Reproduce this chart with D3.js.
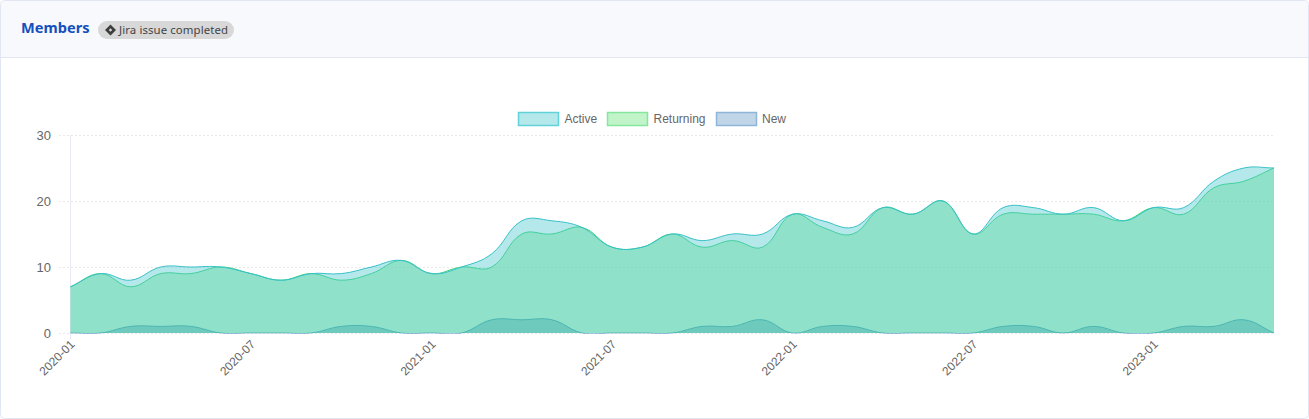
<!DOCTYPE html>
<html><head><meta charset="utf-8">
<script src="https://cdn.jsdelivr.net/npm/d3@7/dist/d3.min.js"></script>
<style>
html,body{margin:0;padding:0;background:#fff;width:1309px;height:419px;overflow:hidden}
svg{display:block}
</style></head><body><svg id="c" width="1309" height="419"></svg>
<script>
const months=["2020-01","2020-02","2020-03","2020-04","2020-05","2020-06","2020-07","2020-08","2020-09","2020-10","2020-11","2020-12","2021-01","2021-02","2021-03","2021-04","2021-05","2021-06","2021-07","2021-08","2021-09","2021-10","2021-11","2021-12","2022-01","2022-02","2022-03","2022-04","2022-05","2022-06","2022-07","2022-08","2022-09","2022-10","2022-11","2022-12","2023-01","2023-02","2023-03","2023-04","2023-05"];
const active=[7,9,8,10,10,10,9,8,9,9,10,11,9,10,12,17,17,16,13,13,15,14,15,15,18,17,16,19,18,20,15,19,19,18,19,17,19,19,23,25,25];
const returning=[7,9,7,9,9,10,9,8,9,8,9,11,9,10,10,15,15,16,13,13,15,13,14,13,18,16,15,19,18,20,15,18,18,18,18,17,19,18,22,23,25];
const fresh=[0,0,1,1,1,0,0,0,0,1,1,0,0,0,2,2,2,0,0,0,0,1,1,2,0,1,1,0,0,0,0,1,1,0,1,0,0,1,1,2,0];
const tickLabels=["2020-01","2020-07","2021-01","2021-07","2022-01","2022-07","2023-01"];
const yTicks=[0,10,20,30];
const seriesNames=["Active","Returning","New"];
const seriesValues=[active,returning,fresh];
const strokes=["#38c0c8","#42d680","#3f86bd"];
const fills=["rgba(70,198,203,0.4)","rgba(100,228,120,0.4)","rgba(70,130,185,0.5)"];
const legendStroke=["#62d2d9","#86e69e","#8fb6d8"];
const legendFill=["#b5e8ea","#c1f4c9","#c0d5e7"];

const svg=d3.select("#c");
const FONT='"Liberation Sans",Arial,sans-serif';
svg.append("rect").attr("x",0.5).attr("y",0.5).attr("width",1308).attr("height",418).attr("rx",4).attr("fill","#fff").attr("stroke","#e2e5f2");
svg.append("path").attr("d","M1,57 V5 a4,4 0 0 1 4,-4 H1304 a4,4 0 0 1 4,4 V57 Z").attr("fill","#f8f9fd");
svg.append("line").attr("x1",1).attr("x2",1308).attr("y1",57.5).attr("y2",57.5).attr("stroke","#e2e5f2");
svg.append("text").attr("x",21).attr("y",33).attr("font-family",'"Noto Sans",sans-serif').attr("font-size",14.6).attr("font-weight",700).attr("fill","#1550bd").text("Members");
svg.append("rect").attr("x",98).attr("y",21).attr("width",136).attr("height",18).attr("rx",9).attr("fill","#d8d8d8");
svg.append("path").attr("fill-rule","evenodd").attr("fill","#3d3d3d").attr("d","M110.5,24.5 L116,30 L110.5,35.5 L105,30 Z M110.5,28.3 L108.8,30 L110.5,31.7 L112.2,30 Z");
svg.append("text").attr("x",119).attr("y",34).attr("font-family",'"Noto Sans",sans-serif').attr("font-size",11.4).attr("letter-spacing",0.1).attr("fill","#444").text("Jira issue completed");

const x=d3.scalePoint().domain(months).range([70.5,1274]);
const y=d3.scaleLinear().domain([0,30]).range([333,135]);

const g=svg.append("g");
g.selectAll(".gl").data(yTicks).join("line").attr("x1",59).attr("x2",1274).attr("y1",d=>y(d)+.5).attr("y2",d=>y(d)+.5)
 .attr("stroke","#e9e9e9").attr("stroke-dasharray","2,2");
g.append("line").attr("x1",70.5).attr("x2",70.5).attr("y1",135).attr("y2",339).attr("stroke","#e9e9f3");
g.selectAll(".yl").data(yTicks).join("text").attr("x",51).attr("y",d=>y(d)+4.5).attr("text-anchor","end")
 .attr("font-family",FONT).attr("font-size",13).attr("fill","#666").text(d=>d);
g.selectAll(".xl").data(tickLabels).join("text")
 .attr("transform",d=>`translate(${x(d)+5},${345}) rotate(-45)`).attr("text-anchor","end")
 .attr("font-family",FONT).attr("font-size",12).attr("fill","#666").text(d=>d);

// Spline with tangents scaled by neighbouring chord lengths (tension 0.4)
function chordSpline(ctx){
  let pts=[],inArea=false,started=false;
  return {
    areaStart(){inArea=true;started=false},
    areaEnd(){inArea=false;ctx.closePath()},
    lineStart(){pts=[]},
    point(px,py){pts.push([+px,+py])},
    lineEnd(){
      const t=0.4,n=pts.length,c=[];
      pts.forEach((p,i)=>{
        const a=pts[Math.max(i-1,0)],b=pts[Math.min(i+1,n-1)];
        const d1=Math.hypot(p[0]-a[0],p[1]-a[1]),d2=Math.hypot(b[0]-p[0],b[1]-p[1]);
        const s=d1+d2||1;const fa=t*d1/s,fb=t*d2/s;
        c.push({p:[p[0]-fa*(b[0]-a[0]),p[1]-fa*(b[1]-a[1])],n:[p[0]+fb*(b[0]-a[0]),p[1]+fb*(b[1]-a[1])]});
      });
      pts.forEach((p,i)=>{
        if(i===0){ (inArea&&started)?ctx.lineTo(p[0],p[1]):ctx.moveTo(p[0],p[1]); started=true; }
        else ctx.bezierCurveTo(c[i-1].n[0],c[i-1].n[1],c[i].p[0],c[i].p[1],p[0],p[1]);
      });
    }
  };
}
svg.append("clipPath").attr("id","plotClip").append("rect").attr("x",70).attr("y",135).attr("width",1204.5).attr("height",198.5);
const area=d3.area().x((d,i)=>x(months[i])).y0(y(0)).y1(d=>y(d)).curve(chordSpline);
const line=d3.line().x((d,i)=>x(months[i])).y(d=>y(d)).curve(chordSpline);
const plot=svg.append("g").attr("clip-path","url(#plotClip)");
// first series paints last, so it sits on top
[2,1,0].forEach(k=>{
  plot.append("path").datum(seriesValues[k]).attr("d",area).attr("fill",fills[k]);
  plot.append("path").datum(seriesValues[k]).attr("d",line).attr("fill","none").attr("stroke",strokes[k]).attr("stroke-width",1);
});

const lx=[518.5,607.5,716.5],tx=[564.5,653.5,762];
seriesNames.forEach((n,k)=>{
  svg.append("rect").attr("x",lx[k]).attr("y",112.5).attr("width",40).attr("height",13).attr("fill",legendFill[k]).attr("stroke",legendStroke[k]).attr("stroke-width",1.5);
  svg.append("text").attr("x",tx[k]).attr("y",123).attr("font-family",FONT).attr("font-size",12).attr("fill","#666").text(n);
});
</script></body></html>
